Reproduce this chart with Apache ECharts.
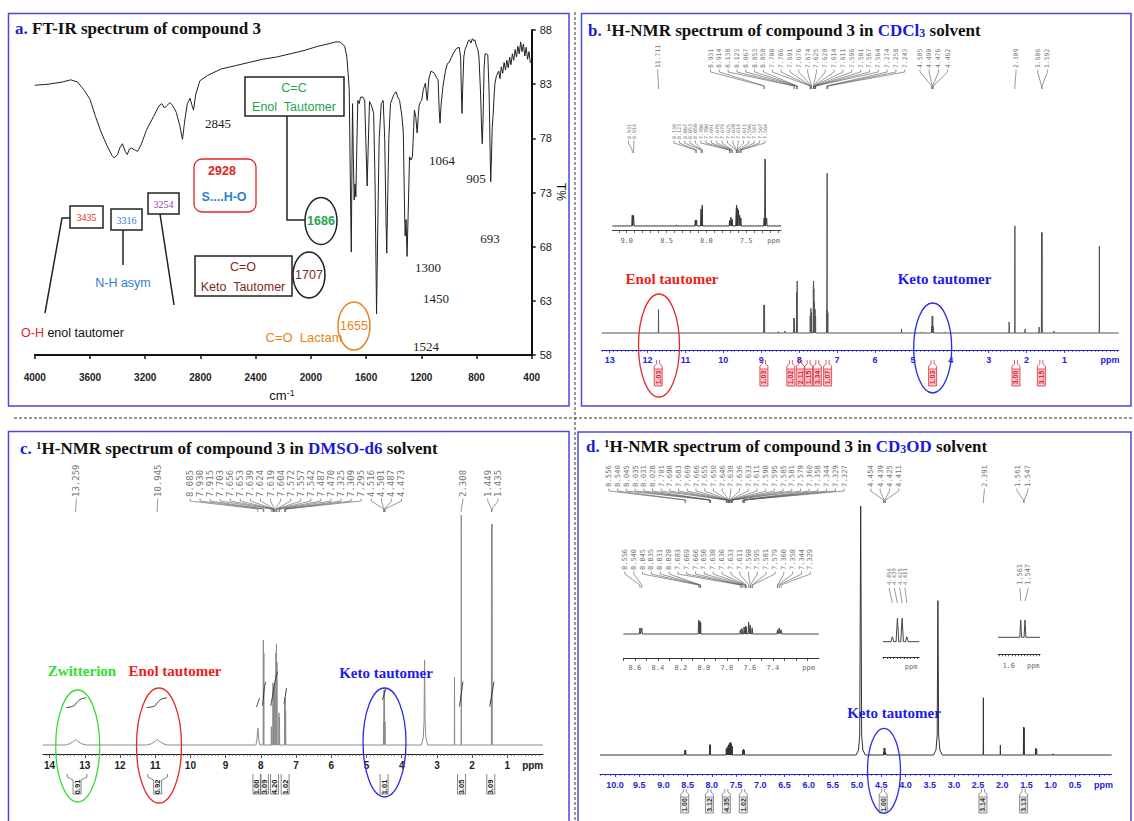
<!DOCTYPE html>
<html><head><meta charset="utf-8">
<script src="https://cdn.jsdelivr.net/npm/echarts@6.0.0/dist/echarts.min.js"></script>
<style>html,body{margin:0;padding:0;background:#fff;}#c{width:1134px;height:821px;}</style>
</head><body><div id="c"></div>
<script>
// ---------------- DATA ----------------
const IR_X_TICKS = [4000,3600,3200,2800,2400,2000,1600,1200,800,400];
const IR_Y_TICKS = [58,63,68,73,78,83,88];
const IR_SPECTRUM = [[4000,82.9],[3900,83.0],[3800,83.2],[3740,83.4],[3690,83.2],[3640,82.4],[3600,81.6],[3560,80.0],[3520,78.6],[3480,77.4],[3440,76.4],[3425,76.2],[3400,76.5],[3385,77.1],[3365,77.5],[3345,76.8],[3330,76.5],[3315,77.0],[3300,77.1],[3270,76.9],[3255,76.8],[3230,77.4],[3190,78.8],[3140,80.0],[3100,81.0],[3080,81.2],[3060,80.8],[3045,81.0],[3020,81.3],[3000,81.0],[2975,80.4],[2950,79.2],[2930,77.9],[2915,79.5],[2895,81.2],[2875,81.7],[2860,81.0],[2850,80.6],[2835,82.0],[2805,83.3],[2750,83.8],[2650,84.4],[2550,84.7],[2450,85.0],[2350,85.3],[2250,85.5],[2150,85.8],[2050,86.1],[1950,86.5],[1880,86.7],[1820,86.9],[1790,86.9],[1770,86.7],[1755,86.5],[1740,85.6],[1730,84.0],[1722,82.5],[1712,72],[1707,67.5],[1702,76],[1698,81.2],[1692,76],[1686,72.3],[1680,73.8],[1674,72.6],[1668,76.5],[1660,81.5],[1650,81.2],[1640,81.8],[1622,81.8],[1610,81.5],[1600,77],[1592,73.6],[1585,77],[1575,81.4],[1560,81.0],[1545,80.3],[1535,74],[1524,61.8],[1515,70],[1505,78],[1490,81.2],[1476,81.5],[1465,78],[1455,70],[1450,67.4],[1444,72],[1435,78],[1423,81.2],[1400,82.0],[1383,82.3],[1370,81.8],[1357,81.5],[1340,80.0],[1330,78.5],[1322,72],[1317,69.0],[1310,70.5],[1303,67.1],[1295,71],[1285,76.3],[1275,76.0],[1264,76.3],[1255,79],[1250,80.6],[1240,80.0],[1230,78.5],[1222,80.0],[1216,81.0],[1205,81.4],[1197,81.5],[1185,82.5],[1170,83.1],[1162,82.0],[1157,81.5],[1145,83.5],[1130,84.2],[1115,84.1],[1104,84.0],[1090,83.6],[1078,83.4],[1070,80.5],[1064,79.4],[1057,81],[1043,82.8],[1025,84.2],[1011,84.9],[998,85.0],[985,85.4],[965,85.9],[945,86.3],[925,86.4],[915,85.5],[909,82],[905,80.3],[900,82.5],[892,85.5],[883,86.2],[870,86.6],[860,87.0],[852,87.1],[840,86.8],[830,87.2],[820,87.0],[812,87.1],[800,86.5],[790,86.2],[782,85.5],[770,82],[762,78.5],[758,77.5],[752,80],[745,84.5],[738,85.8],[731,85.8],[718,85.7],[708,82],[700,76],[697,74.0],[692,76],[686,79],[679,80.3],[672,82],[666,83.1],[655,83.8],[639,84.2],[630,83.5],[620,84.6],[610,84.0],[600,85.0],[590,84.3],[580,85.2],[570,84.5],[560,85.5],[550,84.8],[540,85.8],[530,85.2],[520,86.2],[510,85.5],[500,86.5],[490,85.8],[480,86.9],[470,86.0],[460,86.7],[450,85.6],[440,86.4],[430,85.3],[420,86.0],[410,85.0],[400,85.2]];
const IR_PEAK_NUMBERS = ['2845','1064','905','693','1300','1450','1524'];

// NMR b (CDCl3)
const B_TICKS = [13,12,11,10,9,8,7,6,5,4,3,2,1];
const B_PEAKS = [[11.711,13.9],[8.931,16.5],[8.914,16.5],[8.55,0.8],[8.38,1.2],[8.138,8.8],[8.123,8.8],[8.067,24],[8.053,30.6],[8.050,29],[7.708,10],[7.706,10],[7.691,14.5],[7.676,12],[7.674,12],[7.625,28],[7.620,30.6],[7.614,26],[7.611,25],[7.596,18],[7.581,14],[7.567,10],[7.564,10],[7.274,13.5],[7.262,94],[7.258,13],[7.243,12],[5.30,2.4],[4.76,0.5],[4.505,4],[4.490,10],[4.476,10],[4.462,4],[4.15,0.5],[2.46,6.5],[2.309,63],[2.04,2.4],[1.67,3.5],[1.606,59.4],[1.592,59],[1.28,1.2],[0.88,0.4],[0.08,51]];
const BI_TICKS = [9.0,8.5,8.0,7.5];
const BI_PEAKS = [[8.931,16],[8.914,16],[8.38,1.5],[8.138,9],[8.123,9],[8.067,25],[8.053,31],[8.050,30],[7.708,8],[7.706,8],[7.691,13],[7.676,10],[7.674,10],[7.625,25],[7.620,31],[7.614,27],[7.611,26],[7.596,24],[7.581,16],[7.567,12],[7.564,12],[7.274,12],[7.262,100],[7.258,10],[7.243,12]];
const B_SHIFTS = [['11.711'],['8.931','8.914','8.138','8.123','8.067','8.053','8.050','7.708','7.706','7.691','7.676','7.674','7.625','7.620','7.614','7.611','7.596','7.581','7.567','7.564','7.274','7.258','7.243'],['4.505','4.490','4.476','4.462'],['2.309'],['1.606','1.592']];
const BI_SHIFTS = [['8.931','8.914'],['8.138','8.123','8.067','8.053','8.050','7.708','7.706','7.691','7.676','7.674','7.625','7.620','7.614','7.611','7.596','7.581','7.567','7.564']];
const B_INTEGRALS = [[11.72,'1.03'],[8.93,'1.03'],[8.22,'1.02'],[7.97,'2.11'],[7.75,'1.15'],[7.52,'3.34'],[7.25,'1.07'],[4.48,'1.03'],[2.28,'3.00'],[1.61,'3.15']];

// NMR c (DMSO-d6)
const C_TICKS = [14,13,12,11,10,9,8,7,6,5,4,3,2,1];
const C_PEAKS = [[7.930,45.6],[7.915,40],[7.703,8],[7.656,27],[7.653,25],[7.639,24],[7.624,26],[7.619,25],[7.604,22],[7.572,40],[7.557,44],[7.542,36],[7.487,14],[7.470,12],[7.325,18],[7.309,20.5],[7.295,15],[4.516,10],[4.501,24],[4.487,24],[4.473,10],[2.50,29.5],[2.308,100],[1.449,96],[1.435,96]];
const C_HUMPS = [
  [[13.55,0],[13.42,0.6],[13.32,1.6],[13.26,2.4],[13.20,1.6],[13.10,0.6],[12.97,0]],
  [[11.24,0],[11.10,0.6],[11.00,1.6],[10.945,2.4],[10.88,1.6],[10.78,0.6],[10.66,0]],
  [[8.14,0],[8.11,2.5],[8.085,7.4],[8.06,2.5],[8.03,0]],
  [[3.44,0],[3.39,3],[3.365,10],[3.35,37],[3.335,10],[3.31,3],[3.26,0]]
];
const C_INTEGRAL_CURVES = [
  [[13.53,16.3],[13.40,16.6],[13.30,17.2],[13.22,18.6],[13.13,19.8],[13.04,20.3],[12.96,20.5]],
  [[11.24,16.3],[11.10,16.6],[11.00,17.2],[10.93,18.6],[10.84,19.8],[10.75,20.3],[10.67,20.5]],
  [[8.13,16.5],[8.10,17.5],[8.06,19.5],[8.03,20.5]],
  [[7.95,17],[7.93,20],[7.90,25],[7.86,27.5]],
  [[7.72,17],[7.66,22],[7.58,29],[7.52,31.9]],
  [[7.34,18],[7.31,21],[7.27,24.8]],
  [[4.55,19.6],[4.50,22],[4.45,24.8]],
  [[2.36,16.7],[2.31,22],[2.26,27.5]],
  [[1.50,16.7],[1.44,22],[1.38,27.5]]
];
const C_SHIFTS = [['13.259'],['10.945'],['8.085','7.930','7.915','7.703','7.656','7.653','7.639','7.624','7.619','7.604','7.572','7.557','7.542','7.487','7.470','7.325','7.309','7.295','4.516','4.501','4.487','4.473'],['2.308'],['1.449','1.435']];
const C_INTEGRALS = [[13.22,'0.91',0.28],[10.93,'0.92',0.28],[8.11,'1.00',0.08],[7.90,'3.09',0.08],[7.61,'4.20',0.08],[7.31,'1.02',0.08],[4.50,'1.01',0.1],[2.30,'3.05',0.08],[1.47,'3.09',0.08]];

// NMR d (CD3OD)
const D_TICKS = [10.0,9.5,9.0,8.5,8.0,7.5,7.0,6.5,6.0,5.5,5.0,4.5,4.0,3.5,3.0,2.5,2.0,1.5,1.0,0.5];
const D_PEAKS = [[8.556,2],[8.540,2],[8.045,4],[8.035,4.2],[8.031,4],[8.028,3.8],[7.701,2.5],[7.698,2.5],[7.683,3],[7.669,3.4],[7.666,3.4],[7.655,3.6],[7.650,4],[7.646,4],[7.638,4.6],[7.636,4.6],[7.633,4.5],[7.611,5.2],[7.598,4.5],[7.595,4.5],[7.585,3.5],[7.581,3.5],[7.579,3],[7.360,2],[7.358,2],[7.344,2.4],[7.329,2],[7.327,2],[4.454,1],[4.439,2.8],[4.425,2.8],[4.411,1],[2.391,23],[2.04,4],[1.561,11.2],[1.547,11],[1.31,2.8],[1.29,2.4],[0.95,0.5]];
const D_HUMPS = [
  [[5.02,0],[4.97,2],[4.945,8],[4.925,100],[4.905,8],[4.88,2],[4.83,0]],
  [[3.42,0],[3.37,2],[3.345,8],[3.33,62],[3.315,8],[3.29,2],[3.24,0]]
];
const D1_TICKS = [8.6,8.4,8.2,8.0,7.8,7.6,7.4];
const D1_PEAKS = [[8.556,43],[8.540,43],[8.045,100],[8.035,90],[8.031,85],[8.028,80],[7.683,30],[7.669,40],[7.666,40],[7.650,50],[7.638,55],[7.636,55],[7.633,50],[7.611,86],[7.598,65],[7.595,65],[7.581,45],[7.579,40],[7.360,30],[7.358,30],[7.344,43],[7.329,30]];
const D2_PEAKS = [[4.454,21],[4.439,100],[4.425,100],[4.411,21]];
const D3_TICKS = [1.6];
const D3_PEAKS = [[1.561,100],[1.547,100]];
const D_SHIFTS = [['8.556','8.540','8.045','8.035','8.031','8.028','7.701','7.698','7.683','7.669','7.666','7.655','7.650','7.646','7.638','7.636','7.633','7.611','7.598','7.595','7.585','7.581','7.579','7.360','7.358','7.344','7.329','7.327'],['4.454','4.439','4.425','4.411'],['2.391'],['1.561','1.547']];
const D1_SHIFTS = [['8.556','8.540','8.045','8.035','8.031','8.028','7.683','7.669','7.666','7.650','7.638','7.636','7.633','7.611','7.598','7.595','7.581','7.579','7.360','7.358','7.344','7.329']];
const D2_SHIFTS = ['4.454','4.439','4.425','4.411'];
const D3_SHIFTS = ['1.561','1.547'];
const D_INTEGRALS = [[8.56,'1.00'],[8.05,'3.12'],[7.70,'4.35'],[7.35,'1.02'],[4.46,'1.00'],[2.40,'3.14'],[1.56,'3.13']];

// ---------------- BUILD ----------------
function spectrum(peaks, humps, hw, lo, hi) {
  const pts = [[hi,0],[lo,0]];
  peaks.forEach(p => pts.push([p[0]+hw,0],[p[0],p[1]],[p[0]-hw,0]));
  humps.forEach(h => h.forEach(p => pts.push([p[0],p[1]])));
  pts.sort((a,b) => b[0]-a[0]);
  return pts;
}
function range(a, b, step) { const out=[]; const n=Math.round((b-a)/step); for (let i=0;i<=n;i++) out.push(+(a+i*step).toFixed(4)); return out; }

const BLUE = '#2323d8';
const chart = echarts.init(document.getElementById('c'), null, {renderer:'svg', width:1134, height:821});

const G = {
  a:{left:34.8, top:30, width:496.9, height:325},
  b:{left:601.7, top:163, width:517, height:187},
  bi:{left:612.4, top:159, width:168.8, height:71},
  c:{left:42.9, top:515, width:500, height:239},
  d:{left:600, top:506, width:511.7, height:268},
  d1:{left:623.4, top:620, width:195.5, height:38},
  d2:{left:883, top:618.3, width:36.2, height:38.7},
  d3:{left:998, top:620, width:42, height:34.3}
};
const R = {b:[-0.43,13.21], bi:[7.06,9.18], c:[-0.01,14.19], d:[-0.26,10.31], d1:[7.0,8.7], d2:[4.374,4.482], d3:[1.498,1.635]};
const gridKeys = ['a','b','bi','c','d','d1','d2','d3'];
const grids = gridKeys.map(k => Object.assign({containLabel:false}, G[k]));
const gi = k => gridKeys.indexOf(k);

function nmrAxis(k, ticks, ppmPos, color, opts) {
  opts = opts || {};
  const fmt = opts.fmt || (v => String(v));
  return {
    type:'value', gridIndex:gi(k), min:R[k][0], max:R[k][1], inverse:true, position:'bottom',
    splitLine:{show:false},
    axisLine:{show:true, onZero:false, lineStyle:{color:color, width:opts.lw||1}},
    axisTick:{show:true, customValues:opts.tickValues||ticks, length:opts.tickLen||3, lineStyle:{color:color, width:0.8}},
    axisLabel:{show:true, customValues: ppmPos==null ? ticks : ticks.concat([ppmPos]),
      formatter: v => (ppmPos!=null && Math.abs(v-ppmPos)<1e-6) ? 'ppm' : fmt(v),
      color: opts.labelColor||color, fontSize: opts.fs||9, fontWeight: opts.fw||'bold',
      fontFamily: opts.ff||'Liberation Sans', margin: opts.margin||5, showMinLabel:true, showMaxLabel:true}
  };
}
function minorAxis(k, values, color, len) {
  return {type:'value', gridIndex:gi(k), min:R[k][0], max:R[k][1], inverse:true, position:'bottom',
    splitLine:{show:false}, axisLine:{show:false, onZero:false}, axisLabel:{show:false},
    axisTick:{show:true, customValues:values, length:len||1.8, lineStyle:{color:color, width:0.7}}};
}
const monoLbl = {fs:7, fw:'normal', ff:'DejaVu Sans Mono', labelColor:'#666'};

const xAxes = [
  {type:'value', gridIndex:gi('a'), min:400, max:4000, interval:400, inverse:true, position:'bottom', splitLine:{show:false},
   axisLine:{onZero:false, lineStyle:{color:'#111', width:2}}, axisTick:{length:4, lineStyle:{color:'#111', width:1.5}},
   axisLabel:{color:'#222', fontSize:10, fontWeight:'bold', fontFamily:'Liberation Sans', margin:17, showMinLabel:true, showMaxLabel:true,
     formatter: v => String(v)}},
  nmrAxis('b', B_TICKS, -0.2, BLUE, {margin:5}),
  minorAxis('b', range(-0.4, 13.2, 0.1), BLUE, 1.8),
  nmrAxis('bi', BI_TICKS, 7.155, '#444', Object.assign({tickValues:range(7.1,9.1,0.1), fmt:v=>v.toFixed(1), margin:7}, monoLbl)),
  nmrAxis('c', C_TICKS, 0.28, '#222', {fs:10, margin:6, tickLen:4}),
  minorAxis('c', range(0.1, 14.1, 0.1), '#555', 2),
  nmrAxis('d', D_TICKS, -0.09, BLUE, {fmt:v=>v.toFixed(1), margin:6, tickValues:range(0,10.0,0.5)}),
  minorAxis('d', range(-0.2, 10.3, 0.1), BLUE, 1.8),
  nmrAxis('d1', D1_TICKS, 7.09, '#333', Object.assign({tickValues:range(7.1,8.7,0.1), fmt:v=>v.toFixed(1), margin:6}, monoLbl)),
  nmrAxis('d2', [], 4.398, '#333', Object.assign({tickValues:range(4.38,4.48,0.01), tickLen:2, margin:6}, monoLbl)),
  nmrAxis('d3', D3_TICKS, 1.52, '#333', Object.assign({tickValues:range(1.50,1.63,0.01), tickLen:2, fmt:v=>v.toFixed(1), margin:8}, monoLbl))
];
const yAxes = [
  {type:'value', gridIndex:gi('a'), min:58, max:88, position:'right', splitLine:{show:false},
   axisLine:{show:true, onZero:false, lineStyle:{color:'#111', width:2}},
   axisTick:{show:true, customValues:IR_Y_TICKS, length:4, lineStyle:{color:'#111', width:1.5}},
   axisLabel:{show:true, customValues:IR_Y_TICKS, color:'#222', fontSize:11, fontFamily:'Liberation Sans', margin:8}},
  {type:'value', gridIndex:gi('b'), min:-10, max:100, show:false},
  {type:'value', gridIndex:gi('bi'), min:-6, max:100, show:false},
  {type:'value', gridIndex:gi('c'), min:-3.9, max:100, show:false},
  {type:'value', gridIndex:gi('d'), min:-7.63, max:100, show:false},
  {type:'value', gridIndex:gi('d1'), min:-171.4, max:100, show:false},
  {type:'value', gridIndex:gi('d2'), min:-65.4, max:100, show:false},
  {type:'value', gridIndex:gi('d3'), min:-98.3, max:100, show:false}
];
function lineS(xi, yi, data, color, w) {
  return {type:'line', xAxisIndex:xi, yAxisIndex:yi, data:data, showSymbol:false, symbol:'none', animation:false,
    lineStyle:{color:color, width:w||1}, silent:true};
}
const series = [
  lineS(0, 0, IR_SPECTRUM, '#222', 1),
  lineS(1, 1, spectrum(B_PEAKS, [], 0.004, R.b[0], R.b[1]), '#555', 1),
  lineS(3, 2, spectrum(BI_PEAKS, [], 0.006, R.bi[0], R.bi[1]), '#333', 1),
  lineS(4, 3, spectrum(C_PEAKS, C_HUMPS, 0.005, R.c[0], R.c[1]), '#8c8c8c', 1),
  lineS(6, 4, spectrum(D_PEAKS, D_HUMPS, 0.004, R.d[0], R.d[1]), '#333', 1),
  lineS(8, 5, spectrum(D1_PEAKS, [], 0.005, R.d1[0], R.d1[1]), '#444', 1),
  lineS(9, 6, spectrum(D2_PEAKS, [], 0.004, R.d2[0], R.d2[1]), '#444', 1),
  lineS(10, 7, spectrum(D3_PEAKS, [], 0.003, R.d3[0], R.d3[1]), '#444', 1)
];
C_INTEGRAL_CURVES.forEach(cv => series.push(Object.assign(lineS(4, 3, cv, '#333', 1), {smooth:true})));

chart.setOption({animation:false, backgroundColor:'#fff', textStyle:{fontFamily:'Liberation Sans'},
  grid:grids, xAxis:xAxes, yAxis:yAxes, series:series});

// ---------------- ANNOTATIONS ----------------
const els = [];
const PX = (ax, v) => chart.convertToPixel({xAxisIndex:ax}, v);
function T(x, y, text, o) {
  o = o || {};
  const st = {text:text, fill:o.color||'#222', fontSize:o.size||12, fontFamily:o.font||'Liberation Sans',
    fontWeight:o.weight||'normal', align:o.align||'center', verticalAlign:o.va||'middle'};
  if (o.rich) st.rich = o.rich;
  els.push({type:'text', x:x, y:y, rotation:o.rot||0, z:60, silent:true, style:st});
}
function L(points, color, w, dash) {
  els.push({type:'polyline', z:55, silent:true, shape:{points:points}, style:{stroke:color||'#222', lineWidth:w||1, fill:'none', lineDash:dash||null}});
}
function RC(x, y, w, h, stroke, lw, fill, r) {
  els.push({type:'rect', z:50, silent:true, shape:{x:x, y:y, width:w, height:h, r:r||0}, style:{stroke:stroke, lineWidth:lw||1.5, fill:fill||'none'}});
}
function EL(cx, cy, rx, ry, stroke, lw) {
  els.push({type:'ellipse', z:58, silent:true, shape:{cx:cx, cy:cy, rx:rx, ry:ry}, style:{stroke:stroke, lineWidth:lw||1.3, fill:'none'}});
}

// frames and separators
RC(8.5, 13.5, 560.5, 392.5, '#4a4ad6', 1.5);
RC(581.5, 13.5, 549.5, 392.5, '#4a4ad6', 1.5);
RC(8.5, 431.5, 560.5, 400, '#4a4ad6', 1.5);
RC(578, 432, 553, 400, '#4a4ad6', 1.5);
L([[575,12],[575,821]], '#333', 1, [3,2]);
L([[14,418],[1134,418]], '#333', 1, [3,2]);

// titles
const titleRich = {
  k:{fill:'#1c1cd6', fontSize:17, fontWeight:'bold', fontFamily:'Liberation Serif'},
  t:{fill:'#111', fontSize:17, fontWeight:'bold', fontFamily:'Liberation Serif'},
  s:{fill:'#111', fontSize:11, fontWeight:'bold', fontFamily:'Liberation Serif', verticalAlign:'top', lineHeight:12},
  u:{fill:'#1c1cd6', fontSize:12, fontWeight:'bold', fontFamily:'Liberation Serif', verticalAlign:'bottom', lineHeight:12}
};
const tOpt = {align:'left', size:17, weight:'bold', font:'Liberation Serif', rich:titleRich, color:'#111'};
T(15, 28, '{k|a.} {t|FT-IR spectrum of compound 3}', tOpt);
T(588, 30, '{k|b.} {s|1}{t|H-NMR spectrum of compound 3 in }{k|CDCl}{u|3}{t| solvent}', tOpt);
T(20, 448, '{k|c.} {s|1}{t|H-NMR spectrum of compound 3 in }{k|DMSO-d6}{t| solvent}', tOpt);
T(586, 446, '{k|d.} {s|1}{t|H-NMR spectrum of compound 3 in }{k|CD}{u|3}{k|OD}{t| solvent}', tOpt);

// ---- panel a annotations ----
const GREEN = '#1fa64a', BROWN = '#7a2a20', ORANGE = '#e5861c', RED = '#e32222', LBLUE = '#2b7fd1', PURPLE = '#8a3fb0';
T(282, 395, '{m|cm}{s|-1}', {rich:{m:{fontSize:13, fill:'#111', fontFamily:'Liberation Sans'}, s:{fontSize:9, fill:'#111', verticalAlign:'top', lineHeight:10, fontFamily:'Liberation Sans'}}});
T(561, 192, 'T%', {size:12, rot:-Math.PI/2, color:'#111'});
const irNumPos = [[218,123],[442,160],[476,178],[490,238],[428,267],[436,298],[426,346]];
IR_PEAK_NUMBERS.forEach((t,i) => T(irNumPos[i][0], irNumPos[i][1], t, {size:13, font:'Liberation Serif', color:'#222'}));
RC(245, 77, 99, 39, '#222', 1.5, '#fff');
T(294, 88, 'C=C', {color:GREEN, size:12.5});
T(294, 107, 'Enol  Tautomer', {color:GREEN, size:12.5});
L([[287,116],[287,220],[305,220]], '#222', 1.5);
EL(321, 221, 16, 23.5, '#222', 1.5);
T(321, 221, '1686', {color:GREEN, size:12.5, weight:'bold'});
RC(194, 159, 62, 53, RED, 1.3, 'none', 8);
T(222, 171, '2928', {color:RED, size:12.5, weight:'bold'});
T(224, 197, 'S....H-O', {color:LBLUE, size:12.5, weight:'bold'});
RC(70, 206, 33, 22, '#222', 1.5, '#fff');
T(86.5, 217, '3435', {color:RED, size:10, font:'Liberation Sans Narrow'});
L([[70,218],[62,218],[45,313]], '#222', 1.5);
RC(111, 209, 31, 21, '#222', 1.5, '#fff');
T(126.5, 220, '3316', {color:LBLUE, size:10, font:'Liberation Sans Narrow'});
L([[123,230],[123,265]], '#222', 1.5);
RC(148, 193, 31, 21, '#222', 1.5, '#fff');
T(163.5, 204, '3254', {color:PURPLE, size:10, font:'Liberation Sans Narrow'});
L([[160,214],[174,305]], '#222', 1.5);
T(123, 283, 'N-H asym', {color:LBLUE, size:12.5});
T(21, 333, '{r|O-H} {k|enol tautomer}', {align:'left', size:12.5, rich:{r:{fill:RED, fontSize:12.5, fontFamily:'Liberation Sans'}, k:{fill:'#111', fontSize:12.5, fontFamily:'Liberation Sans'}}});
RC(195, 256, 97, 40, '#222', 1.5, '#fff');
T(243, 267, 'C=O', {color:BROWN, size:12.5});
T(243, 287, 'Keto  Tautomer', {color:BROWN, size:12.5});
EL(309, 275, 16, 23, '#222', 1.5);
T(309, 275, '1707', {color:BROWN, size:12.5});
T(304, 337, 'C=O  Lactam', {color:ORANGE, size:13});
EL(354, 326, 16, 24, ORANGE, 1.5);
T(354, 326, '1655', {color:ORANGE, size:12.5});

// ---- chemical shift labels ----
function fan(ax, groups, layout, yb, yc, fs) {
  groups.forEach((g, gi2) => {
    const x0 = layout[gi2][0], dx = layout[gi2][1];
    g.forEach((t, i) => {
      const xi = x0 + i*dx, xp = PX(ax, parseFloat(t));
      T(xi, yb, t, {rot:Math.PI/2, align:'left', size:fs, font:'DejaVu Sans Mono', color:'#777'});
      L([[xi,yb+1.5],[xi,yb+4],[xp,yc],[xp,yc+3]], '#555', 0.6);
    });
  });
}
fan(1, B_SHIFTS, [[657.7,0],[710.5,8.83],[920,9.2],[1016,0],[1037.7,9.7]], 68, 86, 6.4);
fan(3, BI_SHIFTS, [[628.5,5.3],[674,5.35]], 139, 150, 5);
fan(4, C_SHIFTS, [[76.3,0],[157.7,0],[190,10.07],[462.8,0],[487.7,10.3]], 497, 509, 9);
fan(6, D_SHIFTS, [[608.9,8.71],[870.9,9.27],[984.3,0],[1017,10.8]], 487, 500, 7.3);
fan(8, D1_SHIFTS, [[624.9,8.83]], 570, 585, 7);
D2_SHIFTS.forEach((t,i) => { const xi = 889+i*5.33; T(xi, 585, t, {rot:Math.PI/2, align:'left', size:5.6, font:'DejaVu Sans Mono', color:'#777'}); L([[xi,588],[PX(9, parseFloat(t)),603]], '#555', 0.6); });
D3_SHIFTS.forEach((t,i) => { const xi = 1020+i*8.3; T(xi, 585, t, {rot:Math.PI/2, align:'left', size:7, font:'DejaVu Sans Mono', color:'#777'}); L([[xi,588],[PX(10, parseFloat(t)),601]], '#555', 0.6); });

// ---- integrals ----
B_INTEGRALS.forEach(p => {
  const x = PX(1, p[0]);
  L([[x-4,369],[x-4,366],[x-1.5,364],[x-1.5,360]], '#e0303a', 0.8);
  L([[x+4,369],[x+4,366],[x+1.5,364],[x+1.5,360]], '#e0303a', 0.8);
  RC(x-4, 369, 8, 17, '#e0303a', 0.8, '#f6c6ce');
  T(x, 377.5, p[1], {rot:Math.PI/2, size:7, weight:'bold', color:'#e0202a'});
});
C_INTEGRALS.forEach(p => {
  const x = PX(4, p[0]); const hw = Math.max(4, PX(4, p[0]-p[2]) - x);
  L([[x-hw,774],[x-hw,777],[x-4,780],[x-4,794],[x+4,794],[x+4,780],[x+hw,777],[x+hw,774]], '#666', 0.8);
  T(x, 787, p[1], {rot:Math.PI/2, size:7.5, weight:'bold', color:'#222'});
});
D_INTEGRALS.forEach(p => {
  const x = PX(6, p[0]);
  L([[x-4,797],[x-4,794],[x-1.5,792],[x-1.5,789]], '#777', 0.8);
  L([[x+4,797],[x+4,794],[x+1.5,792],[x+1.5,789]], '#777', 0.8);
  RC(x-4, 797, 8, 16, '#777', 0.8, '#ececec');
  T(x, 805, p[1], {rot:Math.PI/2, size:7, weight:'bold', color:'#333'});
});

// ---- tautomer marks ----
const SERIF = 'Liberation Serif';
EL(659, 345.5, 20.5, 51.5, '#e82828', 1.3);
T(672, 279, 'Enol tautomer', {size:15, weight:'bold', font:SERIF, color:'#ee1c1c'});
EL(932.7, 348, 19, 45, '#2a2ae8', 1.3);
T(944.5, 279, 'Keto tautomer', {size:15, weight:'bold', font:SERIF, color:'#1c1ce6'});
EL(77.7, 746, 22, 56, '#33dd33', 1.3);
T(82, 671, 'Zwitterion', {size:15, weight:'bold', font:SERIF, color:'#2ee02e'});
EL(159, 745.5, 22.5, 57.5, '#e82828', 1.3);
T(175, 671, 'Enol tautomer', {size:15, weight:'bold', font:SERIF, color:'#ee1c1c'});
EL(384.5, 742.5, 21.5, 54.5, '#2a2ae8', 1.3);
T(386, 673, 'Keto tautomer', {size:15, weight:'bold', font:SERIF, color:'#1c1ce6'});
EL(884, 770.8, 16.5, 42.5, '#2a2ae8', 1.3);
T(894, 713, 'Keto tautomer', {size:15, weight:'bold', font:SERIF, color:'#1c1ce6'});

chart.setOption({graphic:{elements:els}});
</script></body></html>
